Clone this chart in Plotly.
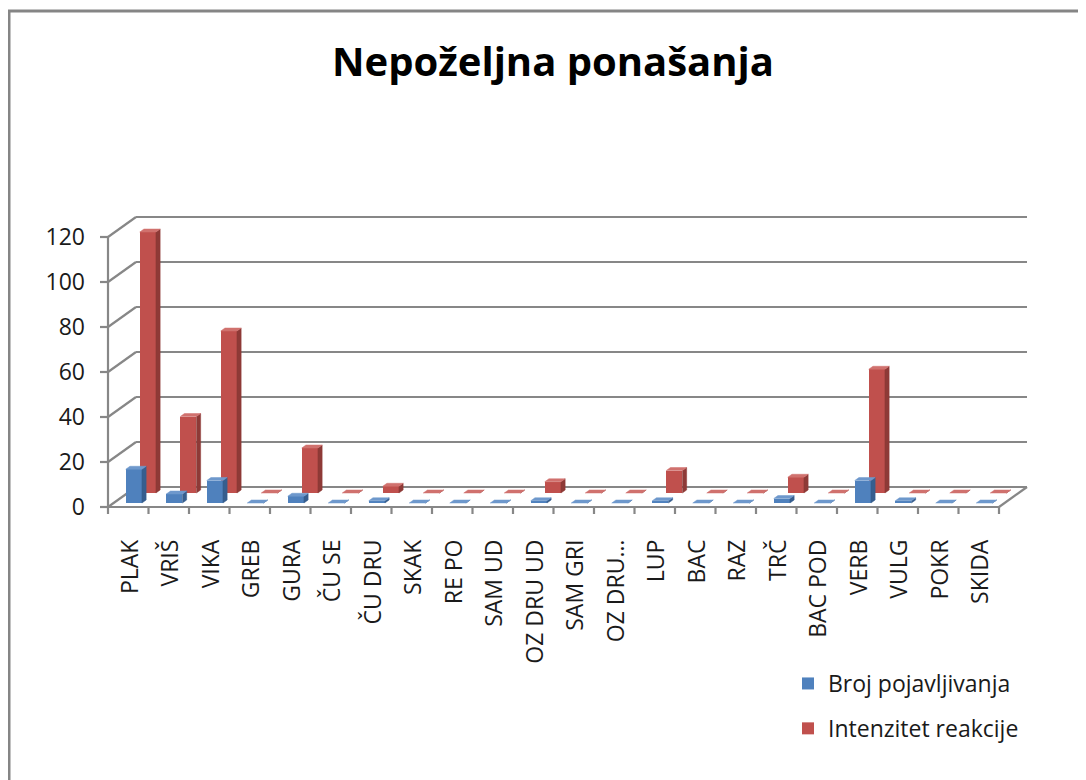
import plotly.graph_objects as go

# ---------------- data ----------------
categories = ["PLAK", "VRIŠ", "VIKA", "GREB", "GURA", "ČU SE", "ČU DRU", "SKAK", "RE PO",
              "SAM UD", "OZ DRU UD", "SAM GRI", "OZ DRU…", "LUP", "BAC", "RAZ", "TRČ",
              "BAC POD", "VERB", "VULG", "POKR", "SKIDA"]
broj_pojavljivanja = [15, 4, 10, 0, 3, 0, 1, 0, 0, 0, 1, 0, 0, 1, 0, 0, 2, 0, 10, 1, 0, 0]
intenzitet_reakcije = [116, 34, 72, 0, 20, 0, 3, 0, 0, 0, 5, 0, 0, 10, 0, 0, 7, 0, 55, 0, 0, 0]
y_ticks = [0, 20, 40, 60, 80, 100, 120]
series_names = ["Broj pojavljivanja", "Intenzitet reakcije"]
title_text = "Nepoželjna ponašanja"

# ---------------- pseudo-3D geometry (axis units) ----------------
PX_X = 40.5          # px per category
PX_Y = 2.25          # px per value unit
DX = 28 / PX_X       # full floor depth, x component
DY = 20 / PX_Y       # full floor depth, y component
BAR_W = 0.4
BAR_T = 0.15
N = len(categories)
YMAX = y_ticks[-1]

def proj(x, y, d):
    return x + d * DX, y + d * DY

FONT = "Open Sans"
GRID = "#878787"

series = [
    dict(name=series_names[1], vals=intenzitet_reakcije, depth=0.70,
         front="#C0504D", side="#8E3A37", top="#D0716E", rank=2),
    dict(name=series_names[0], vals=broj_pojavljivanja, depth=0.20,
         front="#4F81BD", side="#375E8E", top="#6E98CC", rank=1),
]

fig = go.Figure()

for s in series:
    d = s["depth"]
    xs = [i + 0.5 + d * DX for i in range(N)]
    fig.add_trace(go.Bar(
        x=xs, y=s["vals"], base=[d * DY] * N, width=BAR_W,
        marker=dict(color=s["front"], line=dict(width=0)),
        name=s["name"], legendrank=s["rank"], legendgroup=s["name"],
        hovertext=categories, hoverinfo="text+y",
    ))
    sx, sy = [], []
    tx, ty = [], []
    for i, v in enumerate(s["vals"]):
        x0 = i + 0.5 - BAR_W / 2
        x1 = i + 0.5 + BAR_W / 2
        pts = [proj(x1, 0, d), proj(x1, 0, d + BAR_T), proj(x1, v, d + BAR_T), proj(x1, v, d)]
        sx += [p[0] for p in pts] + [pts[0][0], None]
        sy += [p[1] for p in pts] + [pts[0][1], None]
        pts = [proj(x0, v, d), proj(x1, v, d), proj(x1, v, d + BAR_T), proj(x0, v, d + BAR_T)]
        tx += [p[0] for p in pts] + [pts[0][0], None]
        ty += [p[1] for p in pts] + [pts[0][1], None]
    fig.add_trace(go.Scatter(x=sx, y=sy, mode="lines", fill="toself", fillcolor=s["side"],
                             line=dict(width=0.5, color=s["side"]), showlegend=False,
                             hoverinfo="skip", legendgroup=s["name"]))
    fig.add_trace(go.Scatter(x=tx, y=ty, mode="lines", fill="toself", fillcolor=s["top"],
                             line=dict(width=0.5, color=s["top"]), showlegend=False,
                             hoverinfo="skip", legendgroup=s["name"]))

shapes = []
def line(p0, p1, color=GRID, width=2.2):
    shapes.append(dict(type="line", xref="x", yref="y", x0=p0[0], y0=p0[1], x1=p1[0], y1=p1[1],
                       line=dict(color=color, width=width), layer="below"))

for v in y_ticks:
    line(proj(0, v, 1), proj(N, v, 1))        # back wall gridlines
    line(proj(0, v, 0), proj(0, v, 1))        # side wall lines
    line((-8 / PX_X, v), (0, v))              # y tick marks
line(proj(0, 0, 0), proj(0, YMAX, 0))         # front vertical axis
line(proj(0, 0, 0), proj(N, 0, 0))            # floor front edge
line(proj(N, 0, 0), proj(N, 0, 1))            # floor right edge
for i in range(N + 1):
    line((i, 0), (i, -7 / PX_Y))              # category tick marks

# layout in page px (page has an 8px body margin, so figure coords = page - 8)
OFF = 8
W, H = 1086 - OFF, 780 - OFF
L, R, T, B = 100 - OFF, 1035 - OFF, 205 - OFF, 515 - OFF
AX0_X, AX0_Y = 108 - OFF, 507 - OFF      # pixel of front origin
x_range = [(L - AX0_X) / PX_X, (R - AX0_X) / PX_X]
y_range = [-(B - AX0_Y) / PX_Y, (AX0_Y - T) / PX_Y]

def px_to_paper(px, py):
    return (px - OFF - L) / (R - L), (B - (py - OFF)) / (B - T)
fx0, fy0 = px_to_paper(9, 11)
fx1, fy1 = px_to_paper(1100, 800)
shapes.append(dict(type="rect", xref="paper", yref="paper", x0=fx0, y0=fy1, x1=fx1, y1=fy0,
                   line=dict(color="#858585", width=3), fillcolor="rgba(0,0,0,0)", layer="below"))

fig.update_layout(
    width=W, height=H,
    margin=dict(l=L, r=W - R, t=T, b=H - B, autoexpand=False),
    paper_bgcolor="white", plot_bgcolor="white",
    barmode="overlay", bargap=0,
    shapes=shapes,
    title=dict(text=title_text, x=(553 - OFF) / W, xref="container", xanchor="center",
               y=1 - (62 - OFF) / H, yref="container", yanchor="middle",
               font=dict(family=FONT, size=40, color="#000000", weight="bold")),
    xaxis=dict(range=x_range, showgrid=False, zeroline=False, showline=False, ticks="",
               tickmode="array", tickvals=[i + 0.55 for i in range(N)], ticktext=categories,
               tickangle=-90, ticklabelstandoff=19, automargin=False,
               tickfont=dict(family=FONT, size=23, color="#1a1a1a")),
    yaxis=dict(range=y_range, showgrid=False, zeroline=False, showline=False, ticks="",
               tickmode="array", tickvals=y_ticks, ticktext=[str(v) for v in y_ticks],
               ticklabelstandoff=14, automargin=False,
               tickfont=dict(family=FONT, size=23, color="#1a1a1a")),
    legend=dict(xref="container", yref="container", x=(788 - OFF) / W, y=1 - (662 - OFF) / H,
                xanchor="left", yanchor="top", tracegroupgap=12,
                font=dict(family=FONT, size=23, color="#1a1a1a"),
                bgcolor="rgba(0,0,0,0)", itemwidth=30),
    showlegend=True,
)

fig.write_html("out.html")
